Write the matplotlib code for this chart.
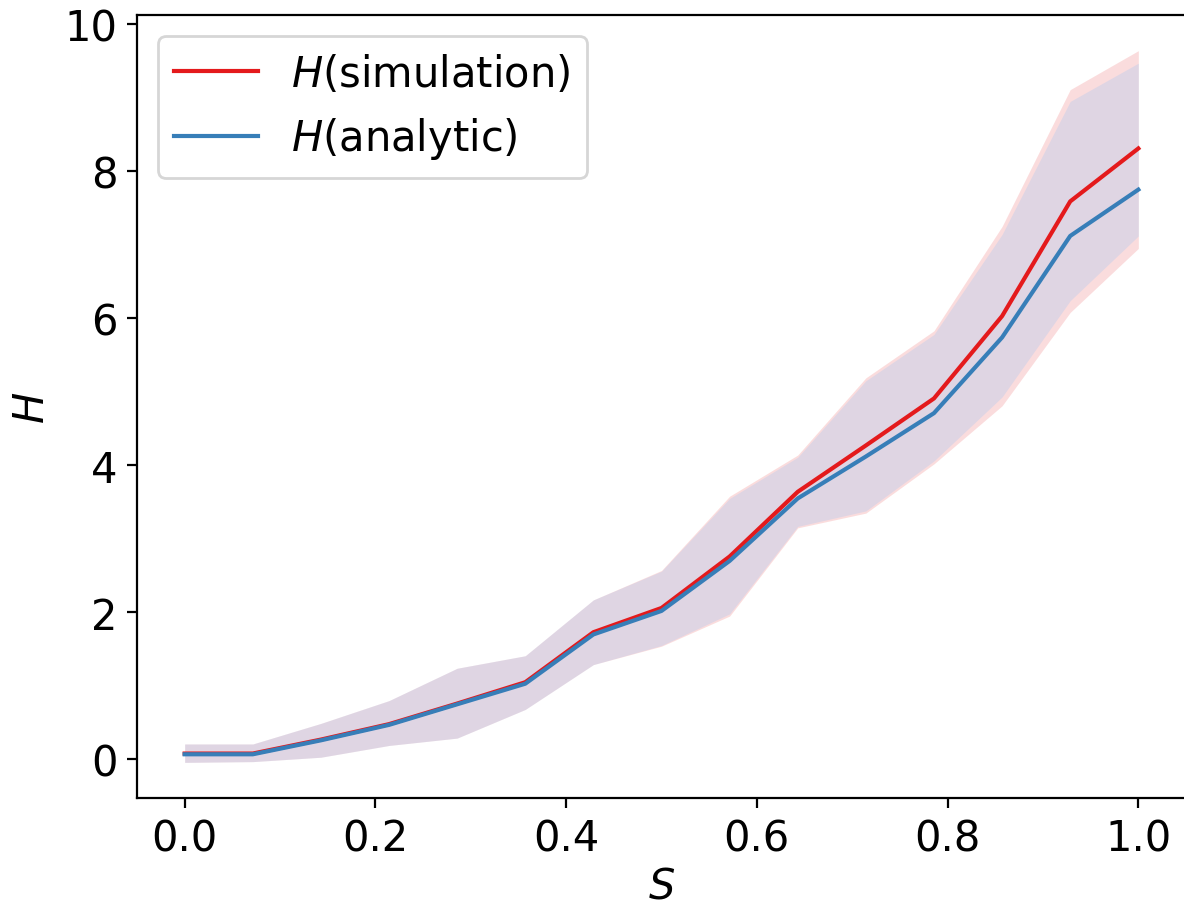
import numpy as np
import matplotlib
matplotlib.use("Agg")
import matplotlib.pyplot as plt

plt.rcParams['font.size'] = 15

# S values: 15 evenly spaced points on [0, 1]
s = [0.0, 1/14, 2/14, 3/14, 4/14, 5/14, 6/14, 7/14, 8/14, 9/14, 10/14, 11/14, 12/14, 13/14, 1.0]

# simulation mean and band
h_sim = [0.08, 0.08, 0.27, 0.48, 0.76, 1.05, 1.73, 2.06, 2.76, 3.64, 4.27, 4.91, 6.03, 7.59, 8.31]
sim_lo = [-0.04, -0.03, 0.03, 0.19, 0.29, 0.68, 1.29, 1.54, 1.95, 3.15, 3.35, 4.02, 4.81, 6.08, 6.95]
sim_hi = [0.21, 0.21, 0.49, 0.80, 1.24, 1.41, 2.17, 2.57, 3.58, 4.14, 5.19, 5.83, 7.25, 9.11, 9.64]

# analytic mean and band
h_ana = [0.07, 0.07, 0.26, 0.47, 0.75, 1.03, 1.70, 2.02, 2.70, 3.55, 4.12, 4.71, 5.74, 7.12, 7.75]
ana_lo = [-0.04, -0.03, 0.03, 0.19, 0.29, 0.68, 1.29, 1.55, 1.98, 3.17, 3.38, 4.06, 4.93, 6.24, 7.12]
ana_hi = [0.21, 0.21, 0.49, 0.80, 1.24, 1.41, 2.17, 2.56, 3.55, 4.11, 5.15, 5.78, 7.14, 8.95, 9.47]

red = '#e41a1c'
blue = '#377eb8'

fig = plt.figure(figsize=(5.92, 4.52), dpi=200)
ax = fig.add_axes([0.1157, 0.1162, 0.886, 0.866])

ax.fill_between(s, sim_lo, sim_hi, color=red, alpha=0.15, lw=0)
ax.fill_between(s, ana_lo, ana_hi, color='#74baff', alpha=0.2, lw=0)
ax.plot(s, h_sim, color=red, lw=1.5, label=r'$H$(simulation)')
ax.plot(s, h_ana, color=blue, lw=1.5, label=r'$H$(analytic)')

ax.set_xlabel(r'$S$', labelpad=2)
ax.set_ylabel(r'$H$')
ax.set_yticks([0, 2, 4, 6, 8, 10])
ax.legend(loc='upper left')

fig.savefig('out.png', dpi=200)
